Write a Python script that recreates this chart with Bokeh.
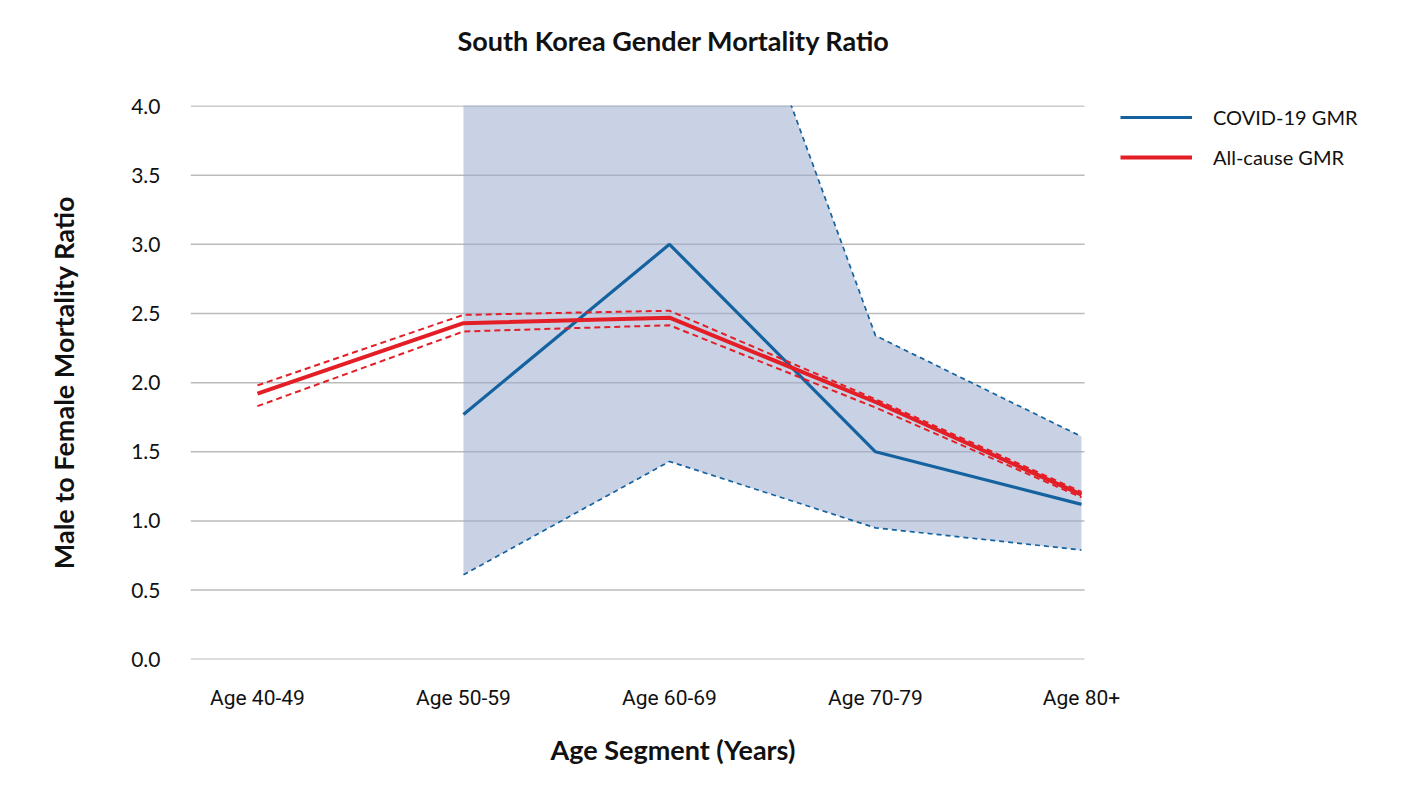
import numpy as np
from bokeh.plotting import figure
from bokeh.models import (Range1d, FixedTicker, Title, Legend, LegendItem)
from bokeh.embed import file_html
from bokeh.resources import INLINE

categories = ["Age 40-49", "Age 50-59", "Age 60-69", "Age 70-79", "Age 80+"]
covid_gmr = [None, 1.77, 3.00, 1.50, 1.12]
covid_upper = [None, 9.00, 6.41, 2.34, 1.61]
covid_lower = [None, 0.61, 1.43, 0.95, 0.79]
allcause_gmr = [1.92, 2.43, 2.47, 1.86, 1.19]
allcause_upper = [1.98, 2.49, 2.52, 1.88, 1.21]
allcause_lower = [1.83, 2.37, 2.415, 1.82, 1.17]
y_ticks = [0.0, 0.5, 1.0, 1.5, 2.0, 2.5, 3.0, 3.5, 4.0]
grid_x_extent = [-0.325, 4.015]   # plot-area span in category units

BLUE = "#14629F"
RED = "#E41E26"
FONT = "Lato"
TXT = "#111111"

xs = list(range(len(categories)))
cx = xs[1:]

p = figure(width=1400, height=792, output_backend="svg", toolbar_location=None,
           x_range=Range1d(-0.325, 5.50), y_range=Range1d(-0.002, 4.004),
           min_border_left=190, min_border_right=10, min_border_top=105,
           min_border_bottom=133)
p.outline_line_color = None
p.background_fill_color = "white"
p.border_fill_color = "white"

# horizontal grid lines across the plot area only
p.segment(x0=[grid_x_extent[0]] * len(y_ticks), x1=[grid_x_extent[1]] * len(y_ticks),
          y0=y_ticks, y1=y_ticks, line_color="#BBBBBB", line_width=1.5, level="underlay")

# shaded CI for COVID
p.varea(x=cx, y1=covid_lower[1:], y2=covid_upper[1:], fill_color="#9CACCD", fill_alpha=0.54)
p.line(cx, covid_upper[1:], line_color=BLUE, line_width=1.7, line_dash="5 4")
p.line(cx, covid_lower[1:], line_color=BLUE, line_width=1.7, line_dash="5 4")
r_covid = p.line(cx, covid_gmr[1:], line_color=BLUE, line_width=3.2)

p.line(xs, allcause_upper, line_color=RED, line_width=2, line_dash="6 4")
p.line(xs, allcause_lower, line_color=RED, line_width=2, line_dash="6 4")
r_all = p.line(xs, allcause_gmr, line_color=RED, line_width=4)

# axes
p.xaxis.ticker = FixedTicker(ticks=xs)
p.xaxis.major_label_overrides = {i: c for i, c in zip(xs, categories)}
p.xaxis.major_label_text_font = "Roboto"
p.xaxis.major_label_text_font_size = "21px"
p.xaxis.major_label_standoff = 20
p.yaxis.ticker = FixedTicker(ticks=y_ticks)
p.yaxis.major_label_overrides = {t: f"{t:.1f}" for t in y_ticks}
p.yaxis.major_label_text_font = FONT
p.yaxis.major_label_text_font_size = "21px"
p.yaxis.major_label_standoff = 24
p.yaxis.axis_label = "Male to Female Mortality Ratio"
p.yaxis.axis_label_text_font = FONT
p.yaxis.axis_label_text_font_style = "bold"
p.yaxis.axis_label_text_font_size = "27px"
p.yaxis.axis_label_text_color = TXT
p.yaxis.axis_label_standoff = 48
for ax in (p.xaxis, p.yaxis):
    ax.axis_line_color = None
    ax.major_tick_line_color = None
    ax.minor_tick_line_color = None
    ax.major_label_text_color = TXT

p.xgrid.grid_line_color = None
p.ygrid.grid_line_color = None

# chart title (trailing blank line keeps it clear of the plot area)
p.add_layout(Title(text="South Korea Gender Mortality Ratio\n ", align="left", offset=267,
                   vertical_align="top", standoff=28, text_font=FONT,
                   text_font_style="bold", text_font_size="27px", text_color=TXT), "above")
p.add_layout(Title(text="Age Segment (Years)", align="left", offset=360,
                   vertical_align="top", standoff=41, text_font=FONT,
                   text_font_style="bold", text_font_size="27px", text_color=TXT), "below")

legend = Legend(items=[LegendItem(label="COVID-19 GMR", renderers=[r_covid]),
                       LegendItem(label="All-cause GMR", renderers=[r_all])],
                location=(930, 490), glyph_width=72, glyph_height=24, label_height=24,
                label_standoff=21, spacing=16, padding=0, margin=0,
                label_text_font=FONT, label_text_font_size="20px",
                label_text_color=TXT, border_line_color=None,
                background_fill_alpha=0)
p.add_layout(legend, "center")

open("out.html", "w").write(file_html(p, INLINE))
